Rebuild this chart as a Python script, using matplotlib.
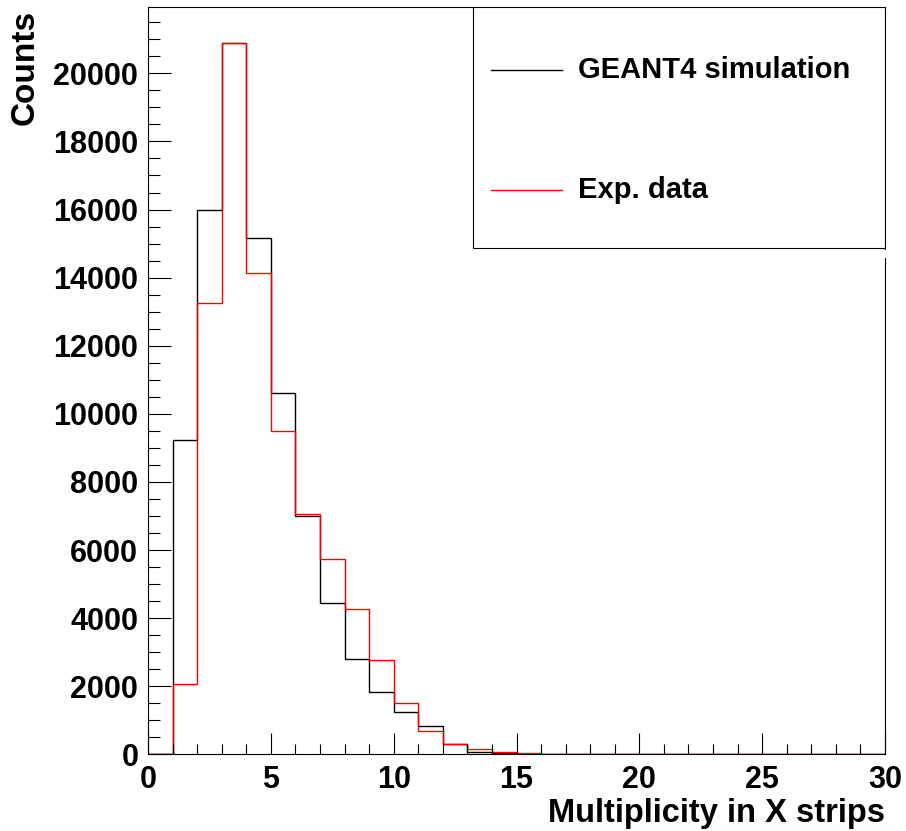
import numpy as np
import matplotlib
matplotlib.use("Agg")
import matplotlib.pyplot as plt
from matplotlib.patches import Rectangle
from matplotlib.lines import Line2D

# bin edges 0..30, width 1
edges = np.arange(0, 31)

# GEANT4 simulation counts per bin
sim_counts = [0, 9220, 16000, 20880, 15160, 10610, 7010, 4450, 2790, 1820,
              1250, 830, 310, 80, 25, 10, 5, 3, 2, 1,
              1, 0, 0, 0, 0, 0, 0, 0, 0, 0]

# experimental data counts per bin
exp_counts = [0, 2070, 13260, 20880, 14140, 9510, 7060, 5740, 4280, 2770,
              1520, 690, 305, 150, 70, 40, 15, 8, 5, 3,
              2, 1, 1, 0, 0, 0, 0, 0, 0, 0]

legend_labels = ["GEANT4 simulation", "Exp. data"]

plt.rcParams['font.family'] = ['Liberation Sans', 'DejaVu Sans']
plt.rcParams['font.weight'] = 'bold'

fig = plt.figure(figsize=(9.06, 8.31), dpi=100)
ax = fig.add_axes([148/906, 1-754.3/831, 737/906, 747/831])

ax.stairs(sim_counts, edges, color='black', lw=1.0, baseline=0)
ax.stairs(exp_counts, edges, color='red', lw=1.0, baseline=0)

ax.set_xlim(0, 30)
ax.set_ylim(0, 21940)

ax.set_xticks(np.arange(0, 31, 5))
ax.set_xticks(np.arange(0, 31, 1), minor=True)
ax.set_yticks(np.arange(0, 21000, 2000))
ax.set_yticks(np.arange(0, 22000, 500), minor=True)

ax.tick_params(axis='both', which='both', direction='in', top=False, right=False,
               width=0.8, labelsize=22)
ax.tick_params(axis='y', which='major', length=16.5, pad=7)
ax.tick_params(axis='y', which='minor', length=8.5)
ax.tick_params(axis='x', which='major', length=15, pad=8)
ax.tick_params(axis='x', which='minor', length=7.2)
for lab in ax.get_xticklabels() + ax.get_yticklabels():
    lab.set_fontweight('bold')

for sp in ax.spines.values():
    sp.set_linewidth(0.8)

# axis titles, ROOT style (right / top aligned)
fig.text(885/906, 1-822/831, "Multiplicity in X strips", ha='right', va='baseline',
         fontsize=23.5, fontweight='bold')
fig.text(25/906, 1-10/831, "Counts", rotation=90, ha='center', va='top',
         fontsize=24, fontweight='bold')

# legend box
ax.add_patch(Rectangle((0.4406, 0.6774), 1-0.4406, 1-0.6774, transform=ax.transAxes,
                       facecolor='white', edgecolor='black', lw=0.8, zorder=5))
for ypos, col, lab in [(0.9161, 'black', legend_labels[0]), (0.7554, 'red', legend_labels[1])]:
    ax.add_line(Line2D([0.4650, 0.5613], [ypos, ypos], color=col, lw=1.0,
                       transform=ax.transAxes, zorder=6))
    ax.text(0.5834, ypos, lab, transform=ax.transAxes, ha='left', va='center',
            fontsize=21, fontweight='bold', zorder=6)

# small gap in the frame under the legend box
fig.add_artist(Rectangle((883/906, 1-258/831), 5/906, 8/831, facecolor='white',
                         edgecolor='none', zorder=10))

fig.savefig("out.png", dpi=100)
